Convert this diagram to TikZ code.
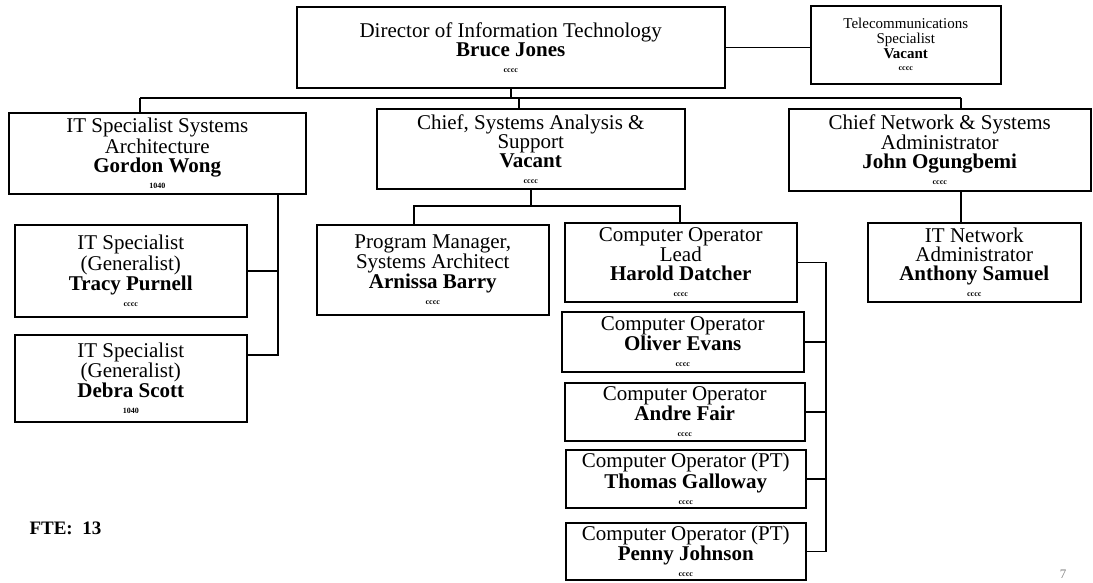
\documentclass[tikz,border=0pt]{standalone}
\usepackage{fontspec}
\setmainfont{Liberation Serif}
\newcommand{\gcode}[1]{\\[-3pt]{\bfseries\fontsize{8}{8}\selectfont #1}}

\begin{document}
\begin{tikzpicture}[x=1pt,y=-1pt,
  post/.style={draw,line width=1.5pt,anchor=north west,align=center,inner sep=0pt,
               font=\fontsize{21}{19}\selectfont},
  link/.style={line width=1.5pt}]
\useasboundingbox (0,0) rectangle (1093,582);

\draw (296,6) node[post,minimum width=428,minimum height=81](dir){Director of Information Technology\\\textbf{Bruce Jones}\gcode{cccc}}
      (810,5) node[post,font=\fontsize{15}{15}\selectfont,minimum width=190,minimum height=78](tel){Telecommunications\\Specialist\\\textbf{Vacant}\gcode{cccc}};

\draw (8,112)   node[post,minimum width=297,minimum height=81](gw){IT Specialist Systems\\Architecture\\\textbf{Gordon Wong}\gcode{1040}}
      (376,108) node[post,minimum width=308,minimum height=80](csa){Chief, Systems Analysis \&\\Support\\\textbf{Vacant}\gcode{cccc}}
      (788,108) node[post,minimum width=302,minimum height=82](cns){Chief Network \& Systems\\Administrator\\\textbf{John Ogungbemi}\gcode{cccc}};

\draw (14,224)  node[post,minimum width=232,minimum height=92](tp){IT Specialist\\(Generalist)\\\textbf{Tracy Purnell}\gcode{cccc}}
      (14,334)  node[post,minimum width=232,minimum height=87](ds){IT Specialist\\(Generalist)\\\textbf{Debra Scott}\gcode{1040}}
      (316,224) node[post,minimum width=232,minimum height=90](pm){Program Manager,\\Systems Architect\\\textbf{Arnissa Barry}\gcode{cccc}}
      (867,222) node[post,minimum width=213,minimum height=79](itn){IT Network\\Administrator\\\textbf{Anthony Samuel}\gcode{cccc}};

\draw (564,222) node[post,minimum width=232,minimum height=79](col){Computer Operator\\Lead\\\textbf{Harold Datcher}\gcode{cccc}}
      (561,311) node[post,minimum width=242,minimum height=60](oe){Computer Operator\\\textbf{Oliver Evans}\gcode{cccc}}
      (564,382) node[post,minimum width=240,minimum height=58](af){Computer Operator\\\textbf{Andre Fair}\gcode{cccc}}
      (565,449) node[post,minimum width=240,minimum height=58](tg){Computer Operator (PT)\\\textbf{Thomas Galloway}\gcode{cccc}}
      (565,522) node[post,minimum width=240,minimum height=57](pj){Computer Operator (PT)\\\textbf{Penny Johnson}\gcode{cccc}};

\coordinate (b1) at (140,98);  \coordinate (b2) at (519,98);  \coordinate (b3) at (961,98);
\coordinate (gl) at (278,355);
\coordinate (cb) at (414,206); \coordinate (cl) at (680,206);
\coordinate (op) at (826,300);

% top level
\draw[link] (b1) -- (b3);
\path[link]
    (dir.east) edge (dir.east -| tel.west)
    (dir.south) edge (dir.south |- b1)
    (b1) edge (b1 |- gw.north)
    (b2) edge (b2 |- csa.north)
    (b3) edge (b3 |- cns.north)
    (b3 |- cns.south) edge (b3 |- itn.north);

% systems architecture
\draw[link] (gl |- gw.south) -- (gl) -- (gl -| ds.east);
\draw[link] (tp.east) -- (tp.east -| gl);

% systems analysis
\draw[link] (csa.south) -- (csa.south |- cb);
\draw[link] (cb |- pm.north) -- (cb) -- (cl) -- (cl |- col.north);

% operators
\draw[link] (col.east) -| (pj.east -| op) -- (pj.east);
\path[link]
    (oe.east) edge (oe.east -| op)
    (af.east) edge (af.east -| op)
    (tg.east) edge (tg.east -| op);

\node[anchor=west,font=\bfseries\fontsize{19}{19}\selectfont] (fte) at (26,528) {FTE:\ \ 13};
\node[text=gray,font=\fontsize{13}{13}\selectfont] (pg) at (1063,574) {7};
\end{tikzpicture}
\end{document}
